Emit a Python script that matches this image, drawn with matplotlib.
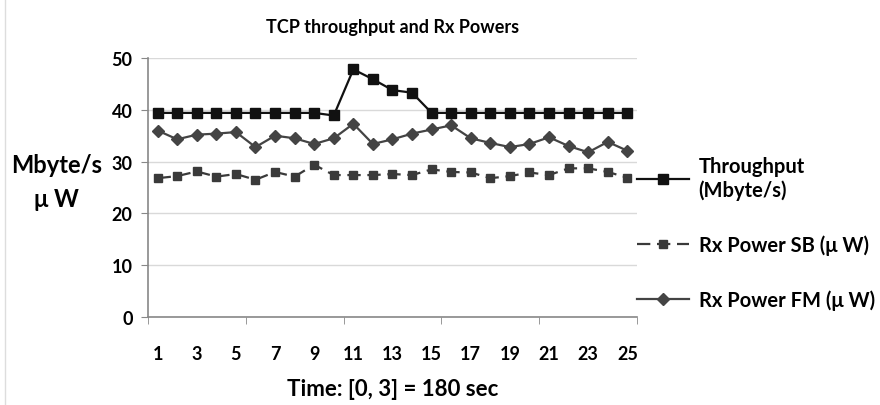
import numpy as np
import matplotlib
matplotlib.use("Agg")
import matplotlib.pyplot as plt
from matplotlib.lines import Line2D

# data
samples = list(range(1, 26))
throughput = [39.4, 39.4, 39.4, 39.4, 39.4, 39.4, 39.4, 39.4, 39.4, 38.9,
              47.8, 45.9, 43.8, 43.3, 39.4, 39.4, 39.4, 39.4, 39.4, 39.4,
              39.4, 39.4, 39.4, 39.4, 39.4]
rx_sb = [26.8, 27.2, 28.1, 27.1, 27.6, 26.5, 28.0, 27.1, 29.4, 27.4,
         27.4, 27.4, 27.6, 27.4, 28.5, 28.0, 27.9, 26.8, 27.2, 27.9,
         27.4, 28.7, 28.7, 28.0, 26.9]
rx_fm = [36.0, 34.3, 35.2, 35.4, 35.7, 32.8, 35.0, 34.5, 33.4, 34.5,
         37.3, 33.4, 34.3, 35.4, 36.2, 37.0, 34.5, 33.6, 32.8, 33.4,
         34.7, 33.0, 31.8, 33.8, 32.1]
labels = ["Throughput\n(Mbyte/s)", "Rx Power SB (\u03bc W)", "Rx Power FM (\u03bc W)"]

plt.rcParams['font.family'] = ['Lato', 'DejaVu Sans']
plt.rcParams['font.weight'] = 'bold'

fig = plt.figure(figsize=(8.8, 4.06), dpi=100)
ax = fig.add_axes([0.168, 0.2167, 0.556, 0.638])

ax.plot(samples, throughput, color='#111111', lw=1.6, marker='s', ms=7,
        label=labels[0])
ax.plot(samples, rx_sb, color='#3a3a3a', lw=1.6, marker='s', ms=6,
        dashes=(6, 3), label=labels[1])
ax.plot(samples, rx_fm, color='#444444', lw=1.6, marker='D', ms=6,
        label=labels[2])

ax.set_xlim(0.5, 25.5)
ax.set_ylim(0, 50)
ax.set_yticks(range(0, 51, 10))
ax.set_xticks(samples[::2])
ax.set_xticks(np.arange(0.5, 26, 5), minor=True)
ax.tick_params(axis='x', which='major', length=0, pad=20, labelsize=13)
ax.tick_params(axis='x', which='minor', length=5, color='#888888', direction='out')
ax.tick_params(axis='y', length=5, color='#888888', labelsize=13, pad=6)
ax.yaxis.grid(True, color='#d9d9d9', lw=1)
ax.set_axisbelow(True)
for s in ['top', 'right']:
    ax.spines[s].set_visible(False)
for s in ['left', 'bottom']:
    ax.spines[s].set_color('#888888')
    ax.spines[s].set_linewidth(1.2)

ax.set_title("TCP throughput and Rx Powers", fontsize=13, fontweight='bold', pad=19)
ax.set_xlabel("Time: [0, 3] = 180 sec", fontsize=16, fontweight='bold', labelpad=12)
fig.text(0.064, 0.55, "Mbyte/s\n\u03bc W", fontsize=17, fontweight='bold',
         ha='center', va='center', linespacing=1.6)

leg = ax.legend(loc='upper left', bbox_to_anchor=(1.0, 0.62), frameon=False,
                fontsize=14.5, handlelength=2.6, handletextpad=0.45,
                labelspacing=1.7, borderaxespad=0, borderpad=0)

fig.add_artist(Line2D([0.006, 0.006], [0.0, 1.0], color='#dddddd', lw=1,
                      transform=fig.transFigure))

fig.savefig("out.png", dpi=100)
